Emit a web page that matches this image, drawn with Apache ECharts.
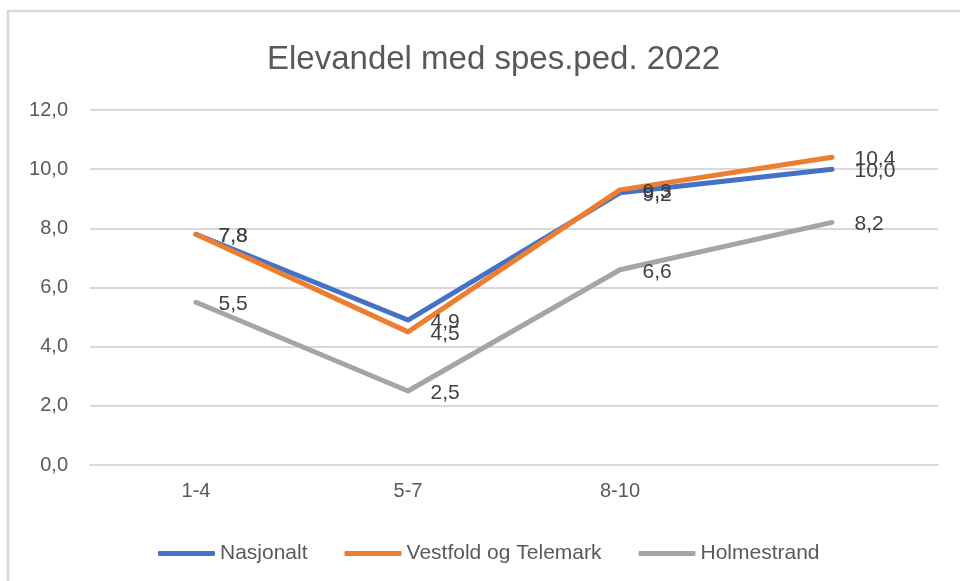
<!DOCTYPE html>
<html lang="no">
<head>
    <meta charset="UTF-8">
    <title>Elevandel med spes.ped. 2022</title>
    <script src="https://cdn.jsdelivr.net/npm/echarts@6/dist/echarts.min.js"></script>
    <style>
        html, body { margin: 0; padding: 0; background: #fff; }
        #chart { width: 960px; height: 581px; }
    </style>
</head>
<body>
    <div id="chart"></div>
    <script>
        // kategorier (siste er tom i originalen)
        const categories = ['1-4', '5-7', '8-10', ''];
        const nasjonalt = [7.8, 4.9, 9.2, 10.0];
        const vestfold = [7.8, 4.5, 9.3, 10.4];
        const holmestrand = [5.5, 2.5, 6.6, 8.2];
        const yTicks = [0, 2, 4, 6, 8, 10, 12];

        const font = '"Liberation Sans", Arial, sans-serif';
        const comma = (v) => Number(v).toFixed(1).replace('.', ',');

        function line(name, data, color) {
            return {
                name,
                type: 'line',
                data,
                symbol: 'circle',
                symbolSize: 1,
                itemStyle: { color },
                lineStyle: { color, width: 5, cap: 'round', join: 'round' },
                label: {
                    show: true,
                    position: 'right',
                    distance: 22,
                    offset: [0, 2],
                    color: '#404040',
                    fontFamily: font,
                    fontSize: 21,
                    formatter: (p) => comma(p.value)
                },
                emphasis: { disabled: true },
                animation: false
            };
        }

        const chart = echarts.init(document.getElementById('chart'));
        chart.setOption({
            backgroundColor: '#fff',
            graphic: [{
                type: 'rect',
                shape: { x: 8, y: 11, width: 1000, height: 700 },
                style: { fill: 'none', stroke: '#d9d9d9', lineWidth: 2.5 },
                silent: true
            }],
            title: {
                text: 'Elevandel med spes.ped. 2022',
                left: 262,
                top: 38,
                textStyle: { fontFamily: font, fontSize: 33, fontWeight: 'normal', color: '#595959' }
            },
            legend: {
                left: 153,
                top: 538,
                icon: 'roundRect',
                itemWidth: 57,
                itemHeight: 5,
                itemGap: 37,
                textStyle: { fontFamily: font, fontSize: 21, color: '#595959' },
                data: ['Nasjonalt', 'Vestfold og Telemark', 'Holmestrand']
            },
            grid: { left: 90, right: 22, top: 110, bottom: 116 },
            xAxis: {
                type: 'category',
                data: categories,
                boundaryGap: true,
                axisLine: { lineStyle: { color: '#d9d9d9', width: 2 } },
                axisTick: { show: false },
                axisLabel: { margin: 16, fontFamily: font, fontSize: 20, color: '#595959' }
            },
            yAxis: {
                type: 'value',
                min: yTicks[0],
                max: yTicks[yTicks.length - 1],
                interval: 2,
                axisLine: { show: false },
                axisTick: { show: false },
                splitLine: { lineStyle: { color: '#d9d9d9', width: 2 } },
                axisLabel: { margin: 22, fontFamily: font, fontSize: 20, color: '#595959', formatter: comma }
            },
            series: [
                line('Nasjonalt', nasjonalt, '#4472c4'),
                line('Vestfold og Telemark', vestfold, '#ed7d31'),
                line('Holmestrand', holmestrand, '#a5a5a5')
            ]
        });
    </script>
</body>
</html>
